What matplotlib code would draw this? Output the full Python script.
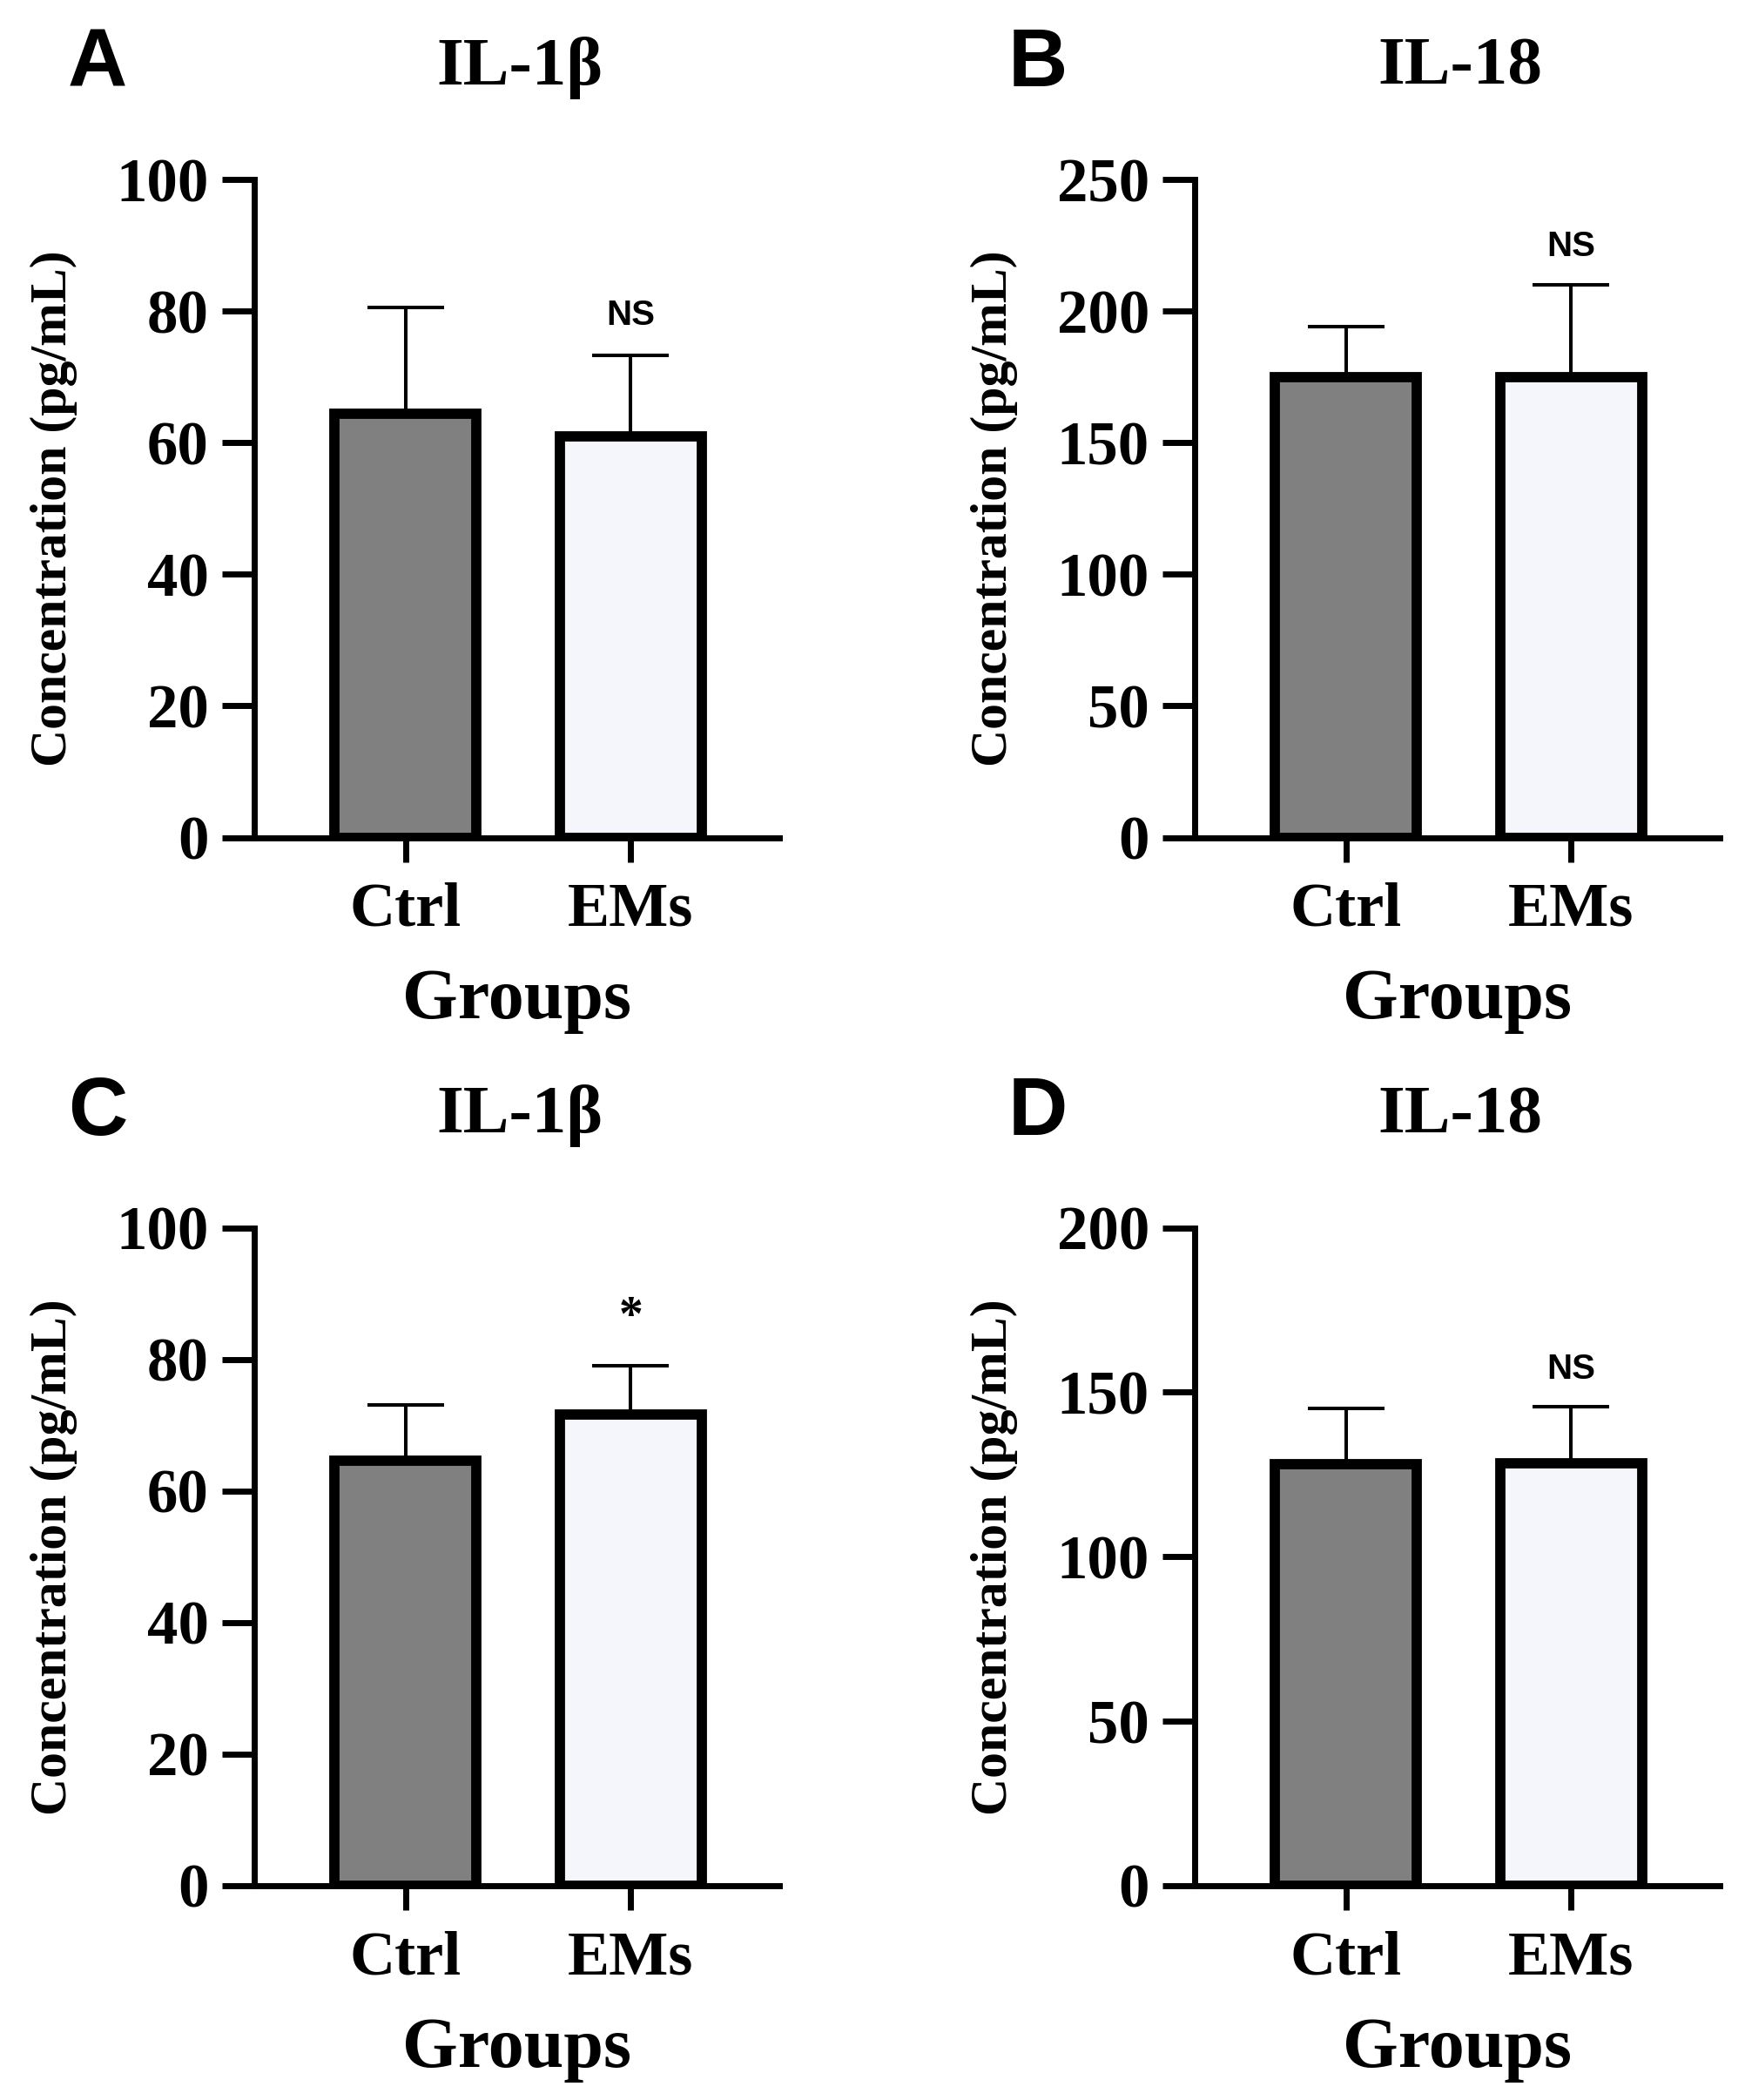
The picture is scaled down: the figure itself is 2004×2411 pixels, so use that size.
import matplotlib
matplotlib.use('Agg')
import matplotlib.pyplot as plt

plt.rcParams['font.family'] = ['Liberation Serif', 'DejaVu Serif']
plt.rcParams['font.weight'] = 'bold'

# data
groups = ['Ctrl', 'EMs']
panel_letters = ['A', 'B', 'C', 'D']
panel_titles = ['IL-1β', 'IL-18', 'IL-1β', 'IL-18']
means = [[64.4, 61.0], [175.0, 175.0], [64.6, 71.6], [128.0, 128.5]]
upper = [[80.6, 73.2], [194.0, 210.0], [73.1, 79.0], [145.0, 145.5]]
y_max = [100, 250, 100, 200]
y_step = [20, 50, 20, 50]
marks = ['NS', 'NS', '*', 'NS']
mark_y = [77.9, 220.8, 84.5, 154.0]

bar_colors = ['#808080', '#F4F6FB']

W, H = 2004, 2411
fig = plt.figure(figsize=(W / 100, H / 100), dpi=100)

# axes boxes in pixels: left, top of y axis
ax_w = 603
ax_h = 755.5
boxes = [(292, 206), (1372, 206), (292, 1409.5), (1372, 1409.5)]

for i, (left, top) in enumerate(boxes):
    ax = fig.add_axes([left / W, 1 - (top + ax_h) / H, ax_w / W, ax_h / H])
    x = list(range(len(groups)))
    errs = [[0] * len(groups), [u - m for u, m in zip(upper[i], means[i])]]
    ax.bar(x, means[i], width=0.63, color=bar_colors, edgecolor='black',
           linewidth=8.5, zorder=2)
    ax.errorbar(x, means[i], yerr=errs, fmt='none', ecolor='black',
                elinewidth=2.9, capsize=32, capthick=2.9, zorder=3)

    ax.set_xlim(-0.672, 1.66)
    ax.set_ylim(0, y_max[i])
    ax.set_yticks(range(0, y_max[i] + 1, y_step[i]))
    ax.set_xticks(x)
    ax.set_xticklabels(groups)

    for s in ['top', 'right']:
        ax.spines[s].set_visible(False)
    for s in ['left', 'bottom']:
        ax.spines[s].set_linewidth(5)
    ax.tick_params(axis='y', length=26.5, width=5, pad=11, labelsize=51)
    ax.tick_params(axis='x', length=20, width=5, pad=17, labelsize=52)
    for lab in ax.get_xticklabels() + ax.get_yticklabels():
        lab.set_fontweight('bold')

    ax.text(-0.382, 0.5, 'Concentration (pg/mL)', transform=ax.transAxes,
            rotation=90, ha='center', va='center', fontsize=43, fontweight='bold')
    ax.text(0.5, -0.275, 'Groups', transform=ax.transAxes, ha='center',
            va='baseline', fontsize=59, fontweight='bold')
    ax.text(0.505, 1.1443, panel_titles[i], transform=ax.transAxes, ha='center',
            va='baseline', fontsize=57, fontweight='bold')
    ax.text(-0.355, 1.1416, panel_letters[i], transform=ax.transAxes, ha='left',
            va='baseline', fontsize=68, fontweight='bold',
            family=['Liberation Sans', 'DejaVu Sans'])

    if marks[i] == 'NS':
        ax.text(1, mark_y[i], 'NS', ha='center', va='baseline', fontsize=29,
                fontweight='bold', family=['Liberation Sans', 'DejaVu Sans'])
    else:
        ax.text(1, mark_y[i], marks[i], ha='center', va='baseline', fontsize=40,
                fontweight='bold')

fig.savefig('out.png', dpi=100, facecolor='white')
